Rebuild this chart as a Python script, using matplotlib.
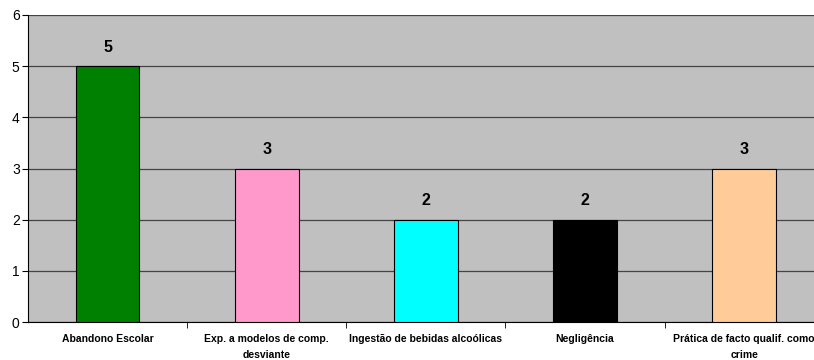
import matplotlib.pyplot as plt
import numpy as np

plt.rcParams['font.family'] = ['Liberation Sans Narrow', 'Liberation Sans', 'DejaVu Sans']

categories = ["Abandono Escolar", "Exp. a modelos de comp.\ndesviante", "Ingestão de bebidas alcoólicas",
              "Negligência", "Prática de facto qualif. como\ncrime"]
values = [5, 3, 2, 2, 3]
colors = ["#008000", "#FF99CC", "#00FFFF", "#000000", "#FFCC99"]

fig = plt.figure(figsize=(8.14, 3.6), dpi=100)
ax = fig.add_axes([28 / 814, 1 - 322 / 360, 1 - 28 / 814, (322 - 15) / 360])
ax.set_facecolor("#C0C0C0")

x = np.arange(len(categories))
ax.bar(x, values, width=0.40, color=colors, edgecolor="black", linewidth=0.8, zorder=3)
for xi, v in zip(x, values):
    ax.text(xi, v + 0.22, str(v), ha="center", va="bottom", fontsize=11.5, fontweight="bold")

# plot area runs a little past the right edge of the picture
ax.set_xlim(-0.5, (814 - 27.4) / 159.25 - 0.5)
ax.set_ylim(0, 6)
ax.set_yticks(range(0, 7))
ax.yaxis.grid(True, color="#444444", linewidth=0.9, zorder=1)
ax.tick_params(axis="y", direction="out", length=4, labelsize=10, pad=2)

ax.set_xticks(x)
ax.set_xticklabels(categories, fontsize=7.5, fontweight="bold", linespacing=1.7)
ax.tick_params(axis="x", length=0, pad=9)
ax.set_xticks(np.arange(0.5, len(categories) - 0.5), minor=True)
ax.tick_params(axis="x", which="minor", direction="out", length=4)

for s in ["top", "right"]:
    ax.spines[s].set_visible(False)

fig.savefig("out.png", dpi=100)
